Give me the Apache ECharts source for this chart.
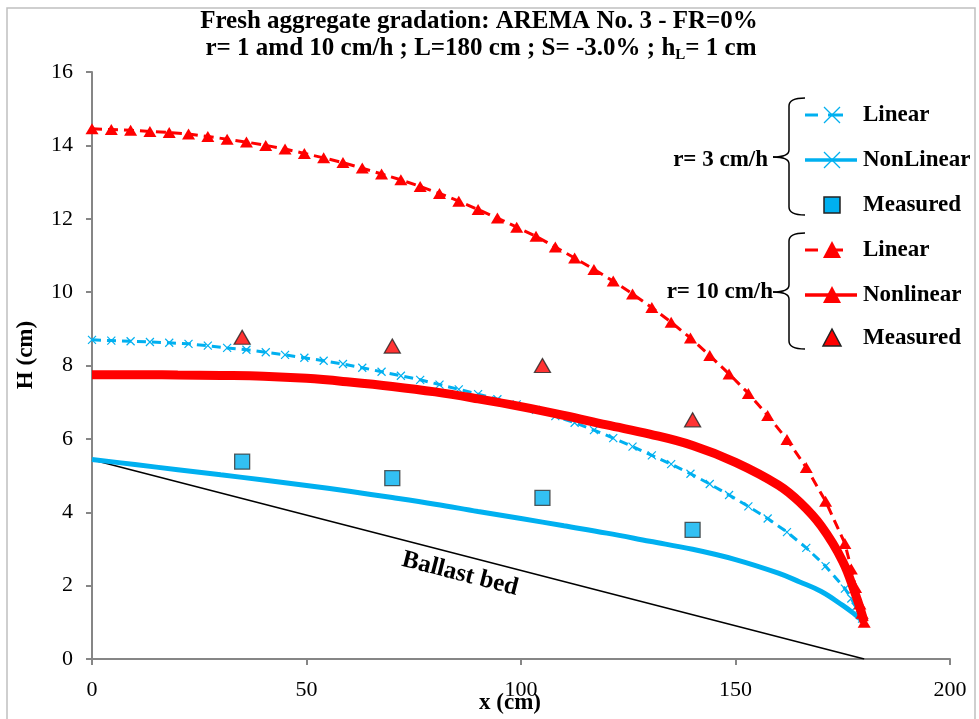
<!DOCTYPE html>
<html><head><meta charset="utf-8">
<script src="https://cdn.jsdelivr.net/npm/echarts@6/dist/echarts.min.js"></script>
<style>html,body{margin:0;padding:0;background:#fff}#c{width:979px;height:719px}</style>
</head><body><div id="c"></div>
<script>
// ---- data (cm) ----
const linX = [0,4.5,9,13.5,18,22.5,27,31.5,36,40.5,45,49.5,54,58.5,63,67.5,72,76.5,81,85.5,90,94.5,99,103.5,108,112.5,117,121.5,126,130.5,135,139.5,144,148.5,153,157.5,162,166.5,171,175.5,177,178,179,179.5,180];
const r3Linear = [8.70,8.68,8.66,8.64,8.62,8.59,8.54,8.48,8.43,8.36,8.29,8.21,8.13,8.04,7.94,7.83,7.72,7.61,7.48,7.35,7.22,7.08,6.94,6.79,6.62,6.44,6.24,6.02,5.79,5.55,5.31,5.05,4.77,4.47,4.16,3.83,3.46,3.03,2.53,1.92,1.65,1.42,1.20,1.10,1.00];
const r10Linear = [14.45,14.43,14.41,14.38,14.35,14.31,14.24,14.17,14.09,14.00,13.90,13.78,13.66,13.53,13.38,13.22,13.06,12.88,12.69,12.48,12.25,12.02,11.77,11.52,11.23,10.93,10.62,10.30,9.95,9.58,9.18,8.75,8.27,7.77,7.24,6.64,5.98,5.22,4.30,3.15,2.45,1.95,1.50,1.25,1.00];
const nlX = [0,10,20,30,40,50,60,70,80,90,100,110,120,130,140,150,160,165,170,175,178,179,180];
const r3NonLinear = [5.44,5.30,5.16,5.02,4.88,4.73,4.57,4.40,4.22,4.02,3.83,3.63,3.43,3.21,2.99,2.71,2.34,2.10,1.84,1.46,1.20,1.10,1.00];
const r10NonLinear = [7.75,7.75,7.74,7.73,7.71,7.65,7.55,7.43,7.28,7.09,6.88,6.64,6.38,6.13,5.82,5.36,4.74,4.27,3.62,2.66,1.75,1.40,1.00];
const measX = [35,70,105,140];
const r3Measured = [5.38,4.93,4.39,3.52];
const r10Measured = [8.77,8.53,8.00,6.52];
const ballastX = [0,180];
const ballastH = [5.43,0];
const xTickStep = 50, yTickStep = 2;

const BLUE = '#00B0F0', RED = '#FF0000';
const SERIF = '"Liberation Serif", "Times New Roman", serif';
const pairs = (xs, ys) => xs.map((x, i) => [x, ys[i]]);
const CROSS = 'path://M0,0L10,10M10,0L0,10';

const chart = echarts.init(document.getElementById('c'), null, {renderer: 'canvas'});

function legendGraphics() {
  const g = [];
  const tx = 863, sx = 832;
  const font = 'bold 23px ' + SERIF;
  const rows = [
    {y: 115, t: 'Linear'}, {y: 160, t: 'NonLinear'}, {y: 205, t: 'Measured'},
    {y: 250, t: 'Linear'}, {y: 295, t: 'Nonlinear'}, {y: 338, t: 'Measured'}
  ];
  rows.forEach(r => g.push({type: 'text', x: tx, y: r.y, style: {text: r.t, font, fill: '#000', textAlign: 'left', textVerticalAlign: 'middle'}}));
  g.push({type: 'text', x: 768, y: 160, style: {text: 'r= 3 cm/h', font, fill: '#000', textAlign: 'right', textVerticalAlign: 'middle'}});
  g.push({type: 'text', x: 773, y: 292, style: {text: 'r= 10 cm/h', font, fill: '#000', textAlign: 'right', textVerticalAlign: 'middle'}});
  const st = {fill: 'none', stroke: '#000', lineWidth: 1.5};
  const brace = (top, mid, bot, tipX) => [
    {type: 'bezierCurve', shape: {x1: 805, y1: top, x2: 789, y2: top + 8, cpx1: 789, cpy1: top}, style: st},
    {type: 'line', shape: {x1: 789, y1: top + 8, x2: 789, y2: mid - 7}, style: st},
    {type: 'bezierCurve', shape: {x1: 789, y1: mid - 7, x2: tipX, y2: mid, cpx1: 789, cpy1: mid}, style: st},
    {type: 'bezierCurve', shape: {x1: tipX, y1: mid, x2: 789, y2: mid + 7, cpx1: 789, cpy1: mid}, style: st},
    {type: 'line', shape: {x1: 789, y1: mid + 7, x2: 789, y2: bot - 8}, style: st},
    {type: 'bezierCurve', shape: {x1: 789, y1: bot - 8, x2: 805, y2: bot, cpx1: 789, cpy1: bot}, style: st}
  ];
  g.push(...brace(98, 157, 215, 773));
  g.push(...brace(233, 292, 349, 773));
  const cross = (y, c) => [
    {type: 'line', shape: {x1: sx - 8, y1: y - 8, x2: sx + 8, y2: y + 8}, style: {stroke: c, lineWidth: 1.2}},
    {type: 'line', shape: {x1: sx - 8, y1: y + 8, x2: sx + 8, y2: y - 8}, style: {stroke: c, lineWidth: 1.2}}];
  const tri = (y, c, stroke) => ({type: 'polygon', shape: {points: [[sx, y - 9], [sx + 9, y + 8], [sx - 9, y + 8]]},
    style: stroke ? {fill: c, stroke: stroke, lineWidth: 1.5} : {fill: c}});
  g.push({type: 'line', shape: {x1: 805, y1: 115, x2: 818, y2: 115}, style: {stroke: BLUE, lineWidth: 3}});
  g.push({type: 'line', shape: {x1: 828, y1: 115, x2: 843, y2: 115}, style: {stroke: BLUE, lineWidth: 3}});
  g.push(...cross(115, BLUE));
  g.push({type: 'line', shape: {x1: 805, y1: 160, x2: 857, y2: 160}, style: {stroke: BLUE, lineWidth: 3.5}});
  g.push(...cross(160, BLUE));
  g.push({type: 'rect', shape: {x: sx - 8, y: 205 - 8, width: 16, height: 16}, style: {fill: BLUE, stroke: '#222', lineWidth: 1.5}});
  g.push({type: 'line', shape: {x1: 805, y1: 250, x2: 818, y2: 250}, style: {stroke: RED, lineWidth: 3}});
  g.push({type: 'line', shape: {x1: 828, y1: 250, x2: 843, y2: 250}, style: {stroke: RED, lineWidth: 3}});
  g.push(tri(250, RED));
  g.push({type: 'line', shape: {x1: 805, y1: 295, x2: 857, y2: 295}, style: {stroke: RED, lineWidth: 3.5}});
  g.push(tri(295, RED));
  g.push(tri(338, RED, '#222'));
  return g;
}

const option = {
  animation: false,
  backgroundColor: '#fff',
  grid: {left: 92, right: 29, top: 72, bottom: 60, containLabel: false},
  xAxis: {
    type: 'value', min: 0, max: 200, interval: xTickStep,
    axisLine: {lineStyle: {color: '#868686', width: 2}},
    axisTick: {length: 6, lineStyle: {color: '#868686', width: 2}},
    axisLabel: {color: '#000', fontSize: 22, fontFamily: SERIF, margin: 20},
    splitLine: {show: false}
  },
  yAxis: {
    type: 'value', min: 0, max: 16, interval: yTickStep,
    axisLine: {show: true, lineStyle: {color: '#868686', width: 2}},
    axisTick: {show: true, length: 6, lineStyle: {color: '#868686', width: 2}},
    axisLabel: {color: '#000', fontSize: 22, fontFamily: SERIF, margin: 19},
    splitLine: {show: false}
  },
  series: [
    {name: 'Ballast bed', type: 'line', data: pairs(ballastX, ballastH), symbol: 'none',
     lineStyle: {color: '#000', width: 1.5}, z: 2, silent: true},
    {name: 'r3 NonLinear', type: 'line', data: pairs(nlX, r3NonLinear), symbol: 'none', smooth: 0.4,
     lineStyle: {color: BLUE, width: 5}, z: 3, silent: true},
    {name: 'r3 Linear', type: 'line', data: pairs(linX, r3Linear), symbol: CROSS, symbolSize: 8, showAllSymbol: true,
     itemStyle: {color: BLUE, borderColor: BLUE, borderWidth: 1.2},
     lineStyle: {color: BLUE, width: 3, type: [9, 6]}, z: 4, silent: true},
    {name: 'r10 Nonlinear', type: 'line', data: pairs(nlX, r10NonLinear), symbol: 'none', smooth: 0.4,
     lineStyle: {color: RED, width: 9}, z: 5, silent: true},
    {name: 'r10 Linear', type: 'line', data: pairs(linX, r10Linear), symbol: 'triangle', symbolSize: [13, 11], showAllSymbol: true,
     itemStyle: {color: RED},
     lineStyle: {color: RED, width: 3, type: [10, 6]}, z: 6, silent: true},
    {name: 'r3 Measured', type: 'scatter', data: pairs(measX, r3Measured), symbol: 'rect', symbolSize: 15,
     itemStyle: {color: BLUE, borderColor: '#333', borderWidth: 1.3}, z: 7, silent: true},
    {name: 'r10 Measured', type: 'scatter', data: pairs(measX, r10Measured), symbol: 'triangle', symbolSize: [16, 14],
     itemStyle: {color: RED, borderColor: '#222', borderWidth: 1.3}, z: 7, silent: true}
  ],
  graphic: [
    {type: 'rect', shape: {x: 7, y: 8, width: 968, height: 720}, style: {fill: 'none', stroke: '#C0C0C0', lineWidth: 1.5}, silent: true},
    {type: 'text', x: 479, y: 22, style: {text: 'Fresh aggregate gradation: AREMA No. 3 - FR=0%', font: 'bold 25px ' + SERIF, fill: '#000', textAlign: 'center', textVerticalAlign: 'middle'}},
    {type: 'text', x: 481, y: 49, style: {
      text: '{a|r= 1 amd 10 cm/h ; L=180 cm ; S= -3.0% ; h}{s|L}{a|= 1 cm}',
      textAlign: 'center', textVerticalAlign: 'middle', fill: '#000',
      rich: {
        a: {fontSize: 25, fontWeight: 'bold', fontFamily: SERIF, fill: '#000', lineHeight: 28},
        s: {fontSize: 15, fontWeight: 'bold', fontFamily: SERIF, fill: '#000', verticalAlign: 'bottom', lineHeight: 20}
      }}},
    {type: 'text', x: 510, y: 703, style: {text: 'x (cm)', font: 'bold 23px ' + SERIF, fill: '#000', textAlign: 'center', textVerticalAlign: 'middle'}},
    {type: 'text', x: 26, y: 355, rotation: Math.PI / 2, style: {text: 'H (cm)', font: 'bold 23px ' + SERIF, fill: '#000', textAlign: 'center', textVerticalAlign: 'middle'}},
    {type: 'text', x: 460, y: 574, rotation: -0.251, style: {text: 'Ballast bed', font: 'bold 25px ' + SERIF, fill: '#000', textAlign: 'center', textVerticalAlign: 'middle'}},
    ...legendGraphics()
  ]
};
chart.setOption(option);
</script>
</body></html>
